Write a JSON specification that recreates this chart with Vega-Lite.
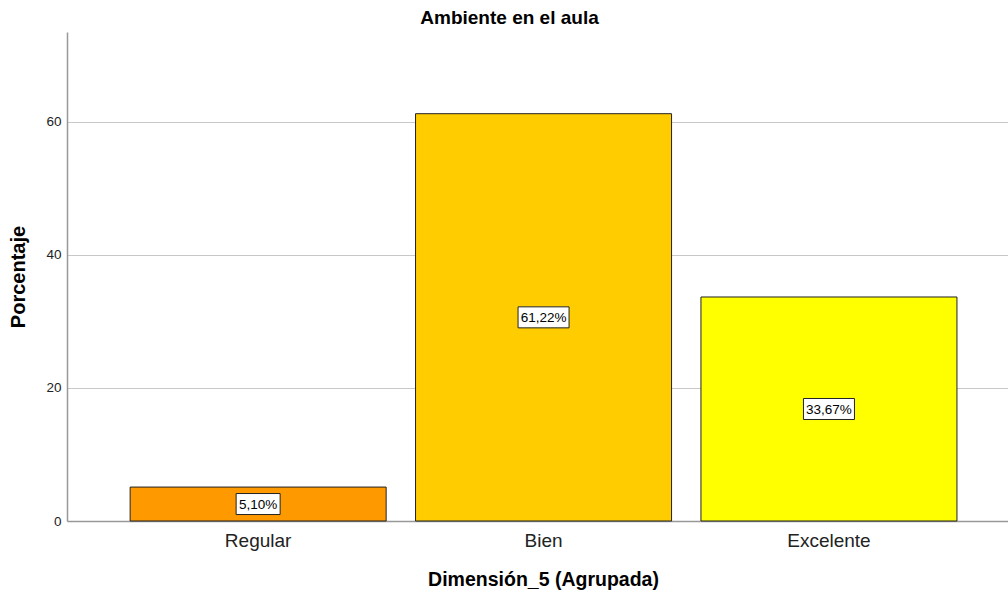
{
  "$schema": "https://vega.github.io/schema/vega-lite/v6.json",
  "autosize": "none",
  "width": 941,
  "height": 489,
  "padding": {"left": 67, "top": 32, "right": 0, "bottom": 72},
  "background": "white",
  "config": {
    "view": {"stroke": null},
    "font": "Liberation Sans"
  },
  "title": {
    "text": "Ambiente en el aula",
    "font": "Liberation Sans",
    "fontSize": 19,
    "fontWeight": "bold",
    "color": "#000000",
    "dx": -28,
    "offset": 4
  },
  "data": {
    "values": [
      {"cat": "Regular", "pct": 5.10, "label": "5,10%"},
      {"cat": "Bien", "pct": 61.22, "label": "61,22%"},
      {"cat": "Excelente", "pct": 33.67, "label": "33,67%"}
    ]
  },
  "transform": [
    {"calculate": "datum.pct / 2", "as": "mid"},
    {"calculate": "length(datum.label)", "as": "len"}
  ],
  "encoding": {
    "x": {
      "field": "cat",
      "type": "nominal",
      "sort": ["Regular", "Bien", "Excelente"],
      "scale": {"paddingInner": 0.103, "paddingOuter": 0.2, "align": 0.553},
      "axis": {
        "title": "Dimensión_5 (Agrupada)",
        "titleFont": "Liberation Sans",
        "titleFontSize": 19.5,
        "titleFontWeight": "bold",
        "titleColor": "#000000",
        "titlePadding": 20,
        "titleX": 476,
        "labelFont": "Liberation Sans",
        "labelFontSize": 19,
        "labelColor": "#222222",
        "labelAngle": 0,
        "labelPadding": 10,
        "ticks": false,
        "domainColor": "#999999",
        "domainWidth": 1.5,
        "grid": false
      }
    }
  },
  "layer": [
    {
      "mark": {"type": "bar", "stroke": "#222222", "strokeWidth": 1},
      "encoding": {
        "y": {
          "field": "pct",
          "type": "quantitative",
          "scale": {"domain": [0, 73.5], "nice": false, "zero": true},
          "axis": {
            "title": "Porcentaje",
            "titleFont": "Liberation Sans",
            "titleFontSize": 20,
            "titleFontWeight": "bold",
            "titleColor": "#000000",
            "titlePadding": 17,
            "labelFont": "Liberation Sans",
            "labelFontSize": 13.5,
            "labelColor": "#222222",
            "labelPadding": 6,
            "ticks": false,
            "values": [0, 20, 40, 60],
            "domainColor": "#999999",
            "domainWidth": 1.5,
            "grid": true,
            "gridColor": "#c8c8c8",
            "gridWidth": 1
          }
        },
        "color": {
          "field": "cat",
          "type": "nominal",
          "scale": {"domain": ["Regular", "Bien", "Excelente"], "range": ["#FF9900", "#FFCC00", "#FFFF00"]},
          "legend": null
        }
      }
    },
    {
      "transform": [{"filter": "datum.len == 5"}],
      "mark": {"type": "rect", "width": 44, "height": 21, "fill": "white", "stroke": "#222222", "strokeWidth": 1},
      "encoding": {
        "y": {"field": "mid", "type": "quantitative"}
      }
    },
    {
      "transform": [{"filter": "datum.len == 6"}],
      "mark": {"type": "rect", "width": 51, "height": 21, "fill": "white", "stroke": "#222222", "strokeWidth": 1},
      "encoding": {
        "y": {"field": "mid", "type": "quantitative"}
      }
    },
    {
      "mark": {"type": "text", "font": "Liberation Sans", "fontSize": 13.5, "color": "#000000", "baseline": "middle", "align": "center", "dy": 1},
      "encoding": {
        "y": {"field": "mid", "type": "quantitative"},
        "text": {"field": "label"}
      }
    }
  ]
}
